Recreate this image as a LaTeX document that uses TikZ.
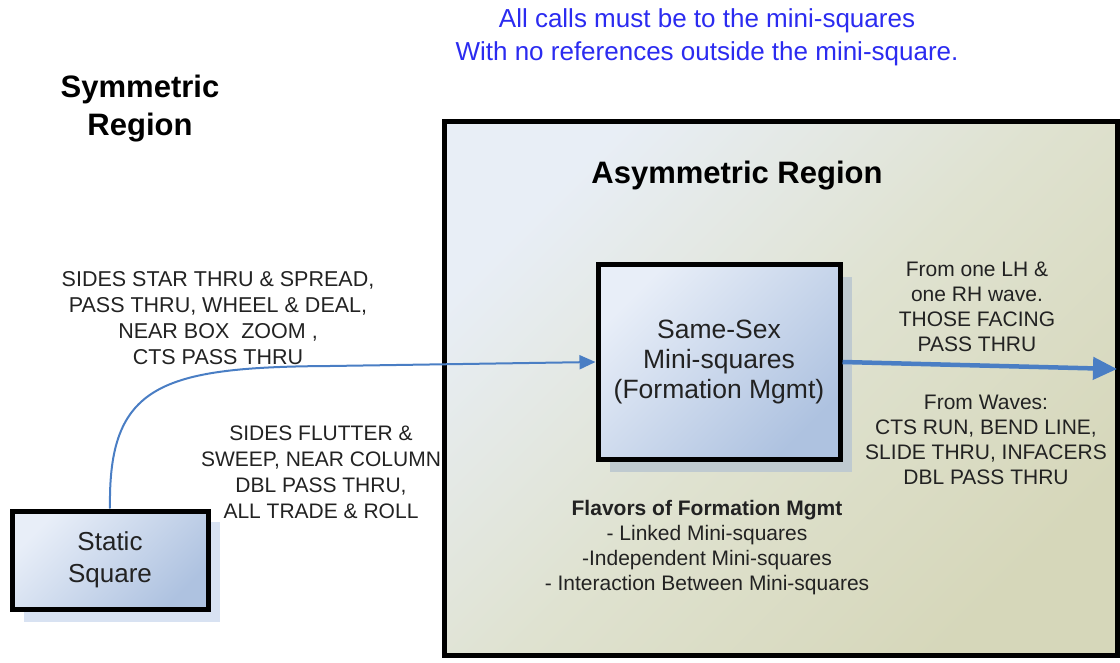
\documentclass[tikz,border=0pt]{standalone}
\usepackage{fontspec}
\setmainfont{Liberation Sans}
\usetikzlibrary{arrows.meta}
\definecolor{callblue}{HTML}{2B2BF0}
\definecolor{linkblue}{HTML}{4A7EC4}
\definecolor{regtl}{HTML}{E8EEF6}
\definecolor{regmid}{HTML}{DFE2D0}
\definecolor{regbr}{HTML}{D6D7BA}
\definecolor{boxtl}{HTML}{E8EEF8}
\definecolor{boxbr}{HTML}{AEC2E0}
\definecolor{shadowA}{HTML}{BFCAD0}
\definecolor{shadowB}{HTML}{D8E2F2}
\definecolor{txt}{HTML}{222222}
\tikzset{
  region/.style={draw=black, line width=5pt, minimum width=673pt, minimum height=533pt,
    left color=regtl, right color=regbr, middle color=regmid, shading angle=45},
  formbox/.style={draw=black, line width=5pt, left color=boxtl, right color=boxbr,
    shading angle=45, align=center, text=txt},
  label/.style={align=center, text=txt, font=\fontsize{21.5}{26}\selectfont},
  heading/.style={align=center, font=\bfseries\fontsize{31}{38}\selectfont, text=black},
  link/.style={draw=linkblue, line width=2pt, -{Triangle[length=16pt,width=14pt]}},
  flow/.style={draw=linkblue, line width=4.5pt, -{Triangle[length=24pt,width=22pt]}},
}
\begin{document}
\begin{tikzpicture}[x=1pt, y=-1pt]
\useasboundingbox (0,0) rectangle (1120,663);

% note at the top
\node[align=center, text=callblue, font=\fontsize{26}{33}\selectfont] (note) at (707,37)
  {All calls must be to the mini-squares\\With no references outside the mini-square.};

\node[heading] (sym) at (140,109) {Symmetric\\Region};

% asymmetric region
\node[region] (asym) at (780.5,388.5) {};
\node[heading] (asymt) at (737,176) {Asymmetric Region};

% shadows
\fill[shadowA] (610,277) rectangle (852,472);
\fill[shadowB] (24,522) rectangle (220,622);

\node[formbox, minimum width=242pt, minimum height=195pt, font=\fontsize{26.5}{30}\selectfont] (mini) at (719,362)
  {Same-Sex\\Mini-squares\\(Formation Mgmt)};
\node[formbox, minimum width=196pt, minimum height=98pt, font=\fontsize{26}{32}\selectfont] (static) at (110,560)
  {Static\\Square};

% labels
\node[label] (calls1) at (218,318)
  {SIDES STAR THRU \& SPREAD,\\PASS THRU, WHEEL \& DEAL,\\NEAR BOX\ \ ZOOM ,\\CTS PASS THRU};
\node[label, font=\fontsize{21}{26}\selectfont] (calls2) at (321,472)
  {SIDES FLUTTER \&\\SWEEP, NEAR COLUMN\\DBL PASS THRU,\\ALL TRADE \& ROLL};
\node[label, font=\fontsize{21}{25}\selectfont] (lhrh) at (977,307)
  {From one LH \&\\one RH wave.\\THOSE FACING\\PASS THRU};
\node[label, font=\fontsize{21}{25}\selectfont] (waves) at (986,440)
  {From Waves:\\CTS RUN, BEND LINE,\\SLIDE THRU, INFACERS\\DBL PASS THRU};
\node[label, font=\fontsize{21}{25}\selectfont] (flavors) at (707,548)
  {\textbf{Flavors of Formation Mgmt}\\- Linked Mini-squares\\-Independent Mini-squares\\- Interaction Between Mini-squares};

% connectors
\coordinate (exit) at (1117,369);
\draw[link] (static.north) .. controls (108,385) and (160,367) .. (330,366) -- (mini.west);
\draw[flow] (mini.east) -- (exit);
\end{tikzpicture}
\end{document}
